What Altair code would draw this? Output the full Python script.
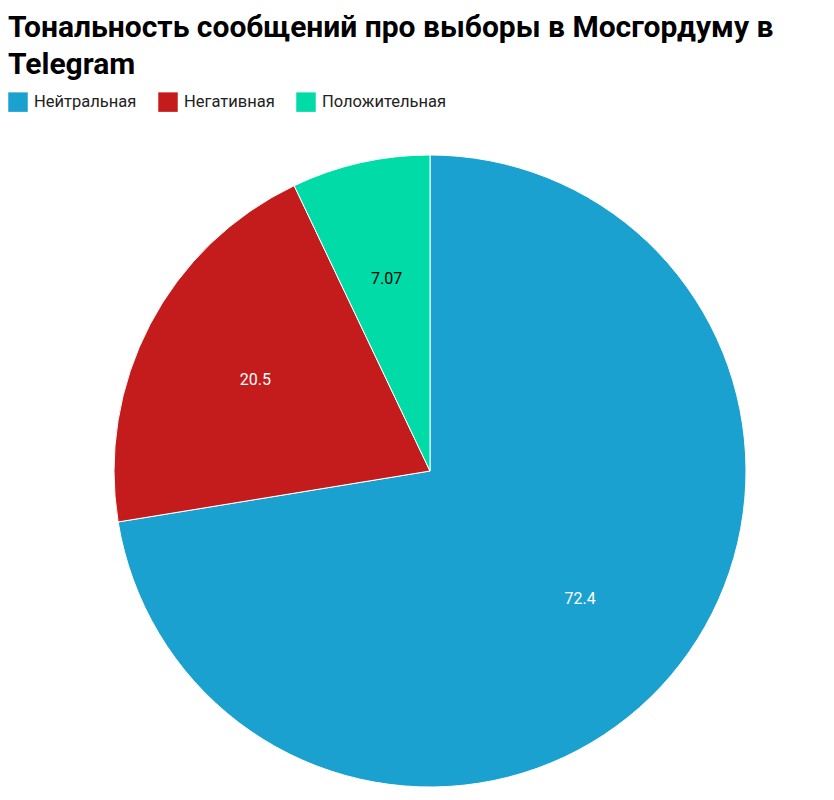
import altair as alt
import pandas as pd

categories = ["Нейтральная", "Негативная", "Положительная"]
values = [72.4, 20.5, 7.07]
colors = ["#1aa1cf", "#c41c1c", "#00dba7"]

df = pd.DataFrame({"category": categories, "value": values, "order": list(range(len(categories)))})

base = alt.Chart(df).encode(
    theta=alt.Theta("value:Q", stack=True),
    order=alt.Order("order:Q"),
)

pie = base.mark_arc(outerRadius=316, stroke="white", strokeWidth=1).encode(
    x=alt.value(422),
    y=alt.value(337),
    color=alt.Color(
        "category:N",
        scale=alt.Scale(domain=categories, range=colors),
        sort=categories,
        legend=alt.Legend(
            title=None,
            orient="top",
            direction="horizontal",
            symbolType="square",
            symbolSize=380,
            symbolStrokeWidth=0,
            labelFontSize=16.5,
            labelFont="Roboto",
            labelColor="#222",
            columnPadding=21,
            labelOffset=6,
            offset=22,
        ),
    ),
)

labels = base.mark_text(radius=197, fontSize=16, font="Roboto").encode(
    x=alt.value(422),
    y=alt.value(337),
    text=alt.Text("value:Q"),
    color=alt.condition(alt.datum.category == "Положительная", alt.value("black"), alt.value("white")),
)

chart = (
    alt.layer(pie, labels)
    .properties(
        width=818,
        height=655,
        padding={"left": 0, "top": 5, "right": 0, "bottom": 0},
        title=alt.TitleParams(
            ["Тональность сообщений про выборы в Мосгордуму в", "Telegram"],
            anchor="start",
            fontSize=30,
            font="Roboto",
            fontWeight="bold",
            lineHeight=37,
            color="#000",
            offset=12,
        ),
    )
    .configure_view(stroke=None)
)

chart.save("out.html", embed_options={"renderer": "svg", "actions": False})
